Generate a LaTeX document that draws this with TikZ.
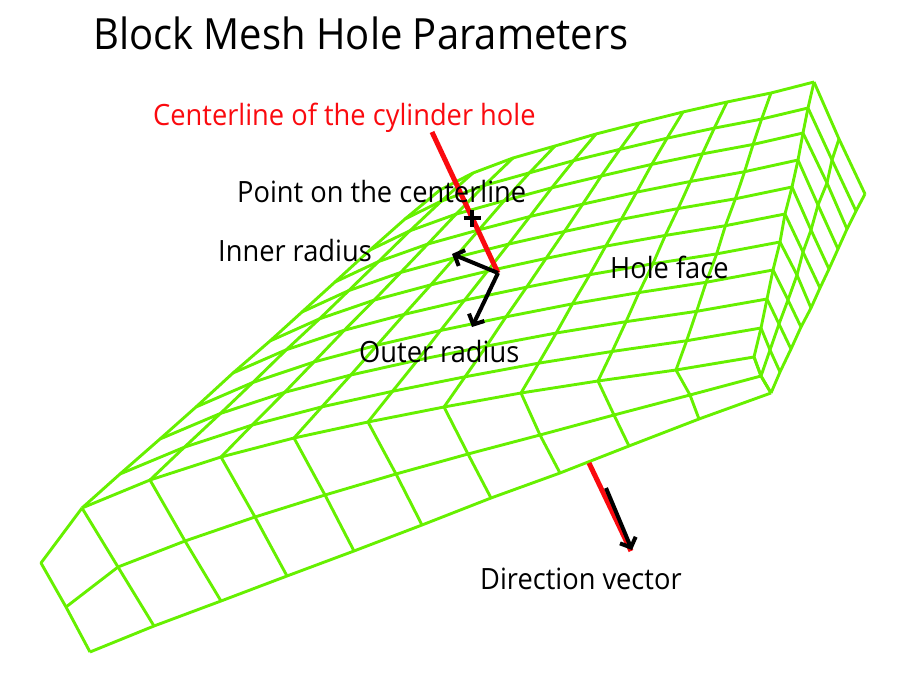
\documentclass[tikz,border=0pt]{standalone}
\usepackage{fontspec}
\usepackage{xcolor}
\setsansfont{Open Sans}[FakeStretch=0.93]
\usetikzlibrary{arrows.meta}
\definecolor{meshgreen}{RGB}{102,240,0}
\definecolor{holered}{RGB}{250,10,15}

% Boundary curves of the hole face, in image pixels
\def\NX{{82,150,221,294,368,444,521,598,676,754}}
\def\NY{{508,480,457,438,422,407,393,381,370,357}}
\def\FX{{440,473,513,555,596,639,683,727,771,814}}
\def\FY{{190,173,158,146,134,123,112,102,93,82}}
\def\EX{{82,120,160,196,233,270,302,335,370,405,440}}
\def\EY{{508,474,439,407,373,341,312,282,250,219,190}}
\def\RX{{754,761,767,773,780,785,792,798,803,808,814}}
\def\RY{{357,328,299,270,242,214,187,160,133,108,82}}

\begin{document}
\begin{tikzpicture}[
    x=1pt, y=-1pt,
    every node/.style={font=\sffamily\fontsize{29.3}{32}\selectfont, inner sep=0pt, anchor=base west},
    mesh/.style={draw=meshgreen, line width=2.9pt, line join=round},
    redline/.style={draw=holered, line width=5pt},
    blackarrow/.style={draw=black, line width=4pt, -{Straight Barb[length=8pt, width=17pt, line width=4pt]}},
    blackmark/.style={draw=black, line width=4.4pt},
    lbl/.style={text=black}
]
\useasboundingbox (0,0) rectangle (900,674);

% === Hole face: grid filled in from its four boundary curves ===
\foreach \i in {0,...,9} {
  \foreach \j in {0,...,10} {
    \pgfmathsetmacro{\u}{\i/9}
    \pgfmathsetmacro{\v}{\j/10}
    \pgfmathsetmacro{\gx}{(1-\v)*\NX[\i]+\v*\FX[\i]+(1-\u)*\EX[\j]+\u*\RX[\j]
        -((1-\u)*(1-\v)*82+\u*(1-\v)*754+(1-\u)*\v*440+\u*\v*814)}
    \pgfmathsetmacro{\gy}{(1-\v)*\NY[\i]+\v*\FY[\i]+(1-\u)*\EY[\j]+\u*\RY[\j]
        -((1-\u)*(1-\v)*508+\u*(1-\v)*357+(1-\u)*\v*190+\u*\v*82)}
    \coordinate (g-\i-\j) at (\gx,\gy);
  }
}
\foreach \j in {0,...,10}
  \draw[mesh] (g-0-\j) \foreach \i in {1,...,9} { -- (g-\i-\j) };
\foreach \i in {0,...,9}
  \draw[mesh] (g-\i-0) \foreach \j in {1,...,10} { -- (g-\i-\j) };

% === Front side ===
\coordinate (corner) at (41,563);
\foreach \x/\y [count=\k from 0] in {66/607,118/567,185/541,255/517,325/495,396/474,468/454,540/435,614/415,690/395,761/376}
  \coordinate (m-\k) at (\x,\y);
\foreach \x/\y [count=\k from 0] in {90/652,154/626,221/601,287/576,354/551,422/525,491/498,560/473,629/446,699/419,771/393}
  \coordinate (b-\k) at (\x,\y);
\draw[mesh] (g-0-0) -- (corner) -- (m-0) -- (b-0);
\draw[mesh] (m-0) \foreach \k in {1,...,10} { -- (m-\k) };
\draw[mesh] (b-0) \foreach \k in {1,...,10} { -- (b-\k) };
\foreach \k [evaluate=\k as \n using int(\k-1)] in {1,...,10}
  \draw[mesh] (g-\n-0) -- (m-\k) -- (b-\k);

% === Right side ===
\foreach \x/\y [count=\k from 0] in {761/376,770/350,779/324,788/300,797/275,803/252,811/230,818/205,827/183,832/160,839/139}
  \coordinate (q-\k) at (\x,\y);
\foreach \x/\y [count=\k from 0] in {771/393,780/372,791/349,801/327,811/308,820/288,829/269,838/249,847/229,856/211,865/194}
  \coordinate (o-\k) at (\x,\y);
\draw[mesh] (q-0) \foreach \k in {1,...,10} { -- (q-\k) };
\draw[mesh] (o-0) \foreach \k in {1,...,10} { -- (o-\k) };
\foreach \j in {0,...,10}
  \draw[mesh] (g-9-\j) -- (q-\j) -- (o-\j);

% === Centerline and direction vector ===
\coordinate (ctop) at (432,132);
\coordinate (cend) at (498,273);
\coordinate (dtop) at (589,463);
\coordinate (dend) at (631,551);
\draw[redline] (ctop) -- (cend);
\draw[redline] (dtop) -- (dend);

% === Radii, point and direction arrows ===
\coordinate (inner) at (452,254);
\coordinate (outer) at (472,327);
\coordinate (dstart) at (606,488);
\coordinate (dtip) at (632,550);
\draw[blackarrow] (cend) -- (inner);
\draw[blackarrow] (cend) -- (outer);
\draw[blackarrow] (dstart) -- (dtip);
\draw[blackmark] (463.5,218) -- (480.5,218);
\draw[blackmark] (472,209.5) -- (472,226.5);

% === Labels ===
\node[font=\sffamily\fontsize{43}{48}\selectfont] (title) at (93,50) {Block Mesh Hole Parameters};
\node[text=holered] (lcenter) at (153,126) {Centerline of the cylinder hole};
\node[lbl] (lpoint) at (237,202) {Point on the centerline};
\node[lbl] (linner) at (218,261) {Inner radius};
\node[lbl] (louter) at (359,362) {Outer radius};
\node[lbl] (lface) at (610,278) {Hole face};
\node[lbl] (ldir) at (480,589) {Direction vector};
\end{tikzpicture}
\end{document}
